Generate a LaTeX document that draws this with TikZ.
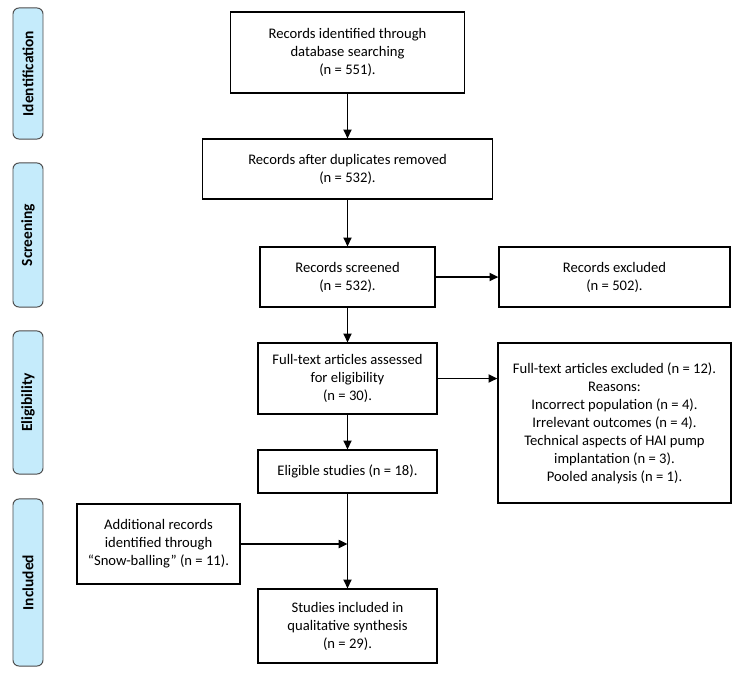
\documentclass[tikz,border=0pt]{standalone}
\usepackage{fontspec}
\setmainfont{Carlito}
\usetikzlibrary{arrows.meta}

\definecolor{stageblue}{RGB}{197,235,251}

\tikzset{
  box/.style={draw, line width=0.8pt, align=center, inner sep=2pt, font=\fontsize{10.4}{12.8}\selectfont},
  stage/.style={draw=black!70, fill=stageblue, rounded corners=0.15cm, line width=0.7pt, minimum height=0.75cm, rotate=90, font=\fontsize{11}{13}\selectfont\bfseries},
  arr/.style={line width=1.3pt, -{Triangle[length=2.2mm,width=2mm]}}
}

\begin{document}
\begin{tikzpicture}[x=0.025cm, y=-0.025cm]
        \useasboundingbox (0,0) rectangle (744,679);

        \node[stage, minimum width=3.275cm] (lblident) at (28,73.5) {Identification};
        \node[stage, minimum width=3.6cm] (lblscreen) at (28,235) {Screening};
        \node[stage, minimum width=3.575cm] (lblelig) at (28,402.5) {Eligibility};
        \node[stage, minimum width=4.175cm] (lblincl) at (28,582.5) {Included};

        \node[box, minimum width=5.85cm, minimum height=2.025cm] (found) at (347.5,52.5) {Records identified through\\ database searching\\ (n = 551).};
        \node[box, minimum width=7.25cm, minimum height=1.5cm] (dedup) at (347.5,169) {Records after duplicates removed\\ (n = 532).};
        \node[box, minimum width=4.375cm, minimum height=1.5cm] (screened) at (347.5,277) {Records screened\\ (n = 532).};
        \node[box, minimum width=5.775cm, minimum height=1.5cm] (excl) at (614.5,277) {Records excluded\\ (n = 502).};
        \node[box, minimum width=4.475cm, minimum height=1.775cm] (fulltext) at (347.5,378.5) {Full-text articles assessed\\ for eligibility\\ (n = 30).};
        \node[box, minimum width=5.825cm, minimum height=4cm] (ftexcl) at (614.5,423) {Full-text articles excluded (n = 12).\\ Reasons:\\ Incorrect population (n = 4).\\ Irrelevant outcomes (n = 4).\\ Technical aspects of HAI pump\\ implantation (n = 3).\\ Pooled analysis (n = 1).};
        \node[box, minimum width=4.475cm, minimum height=1.075cm] (eligible) at (347.5,471.5) {Eligible studies (n = 18).};
        \node[box, minimum width=4.075cm, minimum height=2cm] (snowball) at (158.5,544) {Additional records\\ identified through\\ ``Snow-balling'' (n = 11).};
        \node[box, minimum width=4.475cm, minimum height=1.85cm] (included) at (347.5,626) {Studies included in\\ qualitative synthesis\\ (n = 29).};

        \coordinate (join) at (eligible.south |- snowball.east);

        \draw[arr] (found) -- (dedup);
        \draw[arr] (dedup) -- (screened);
        \draw[arr] (screened) -- (excl);
        \draw[arr] (screened) -- (fulltext);
        \draw[arr] (fulltext.east) -- (fulltext.east -| ftexcl.west);
        \draw[arr] (fulltext) -- (eligible);
        \draw[arr] (eligible) -- (included);
        \draw[arr] (snowball.east) -- (join);
\end{tikzpicture}
\end{document}
